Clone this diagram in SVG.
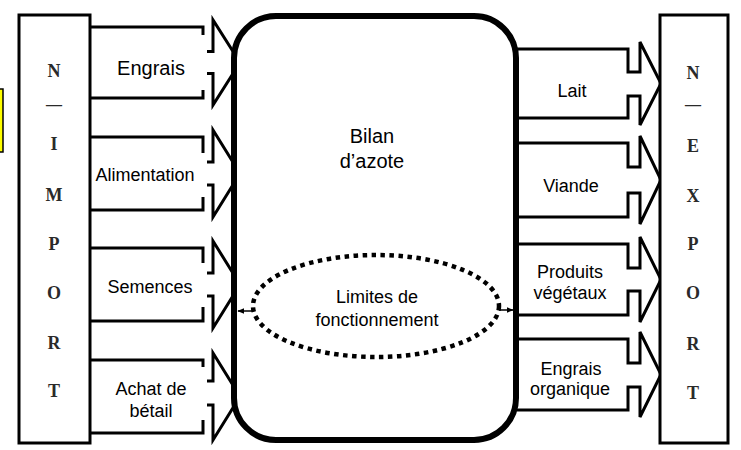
<svg xmlns="http://www.w3.org/2000/svg" width="741" height="450" viewBox="0 0 741 450">
<style>
.arr{fill:none;stroke:#000;stroke-width:3;stroke-linejoin:miter}
.lbl{font-family:"Liberation Sans",Arial,sans-serif;font-size:18px;fill:#000;text-anchor:middle}
.col{font-family:"Liberation Serif","Times New Roman",serif;font-size:18px;font-weight:bold;fill:#2a2a2a;text-anchor:middle}
.side{fill:#fff;stroke:#000;stroke-width:3}
.wbox{fill:#fff;stroke:none}
</style>
<defs>
<marker id="ah" viewBox="0 0 10 10" refX="9" refY="5" markerWidth="7" markerHeight="7" orient="auto-start-reverse" markerUnits="userSpaceOnUse">
<path d="M0,1 L10,5 L0,9 z" fill="#000"/>
</marker>
</defs>
<rect width="741" height="450" fill="#fff"/>

<g id="note">
<rect x="-6" y="89" width="9" height="63" fill="#ffff00" stroke="#000" stroke-width="1.5"/>
</g>

<g id="connectors">
<!-- import arrows -->
<path class="arr" d="M90,27 H203 V51.5 H213 V20 L240,62.5 L213,105 V73.5 H203 V98 H90"/>
<path class="arr" d="M90,137 H203 V162 H213 V130 L240,173.5 L213,217 V185 H203 V210 H90"/>
<path class="arr" d="M90,248 H203 V273 H213 V241 L240,284.5 L213,328 V296 H203 V321 H90"/>
<path class="arr" d="M90,360 H203 V381 H213 V353 L240,396.5 L213,440 V405 H203 V433 H90"/>
<!-- export arrows -->
<path class="arr" d="M517,49 H628 V72 H640 V42 L661,83.5 L640,125 V96 H628 V118 H517"/>
<path class="arr" d="M517,143 H628 V167 H640 V136 L661,180 L640,224 V193 H628 V217 H517"/>
<path class="arr" d="M517,244 H628 V268 H640 V237 L661,279.5 L640,322 V291 H628 V315 H517"/>
<path class="arr" d="M517,339 H628 V363 H640 V332 L661,374.5 L640,417 V387 H628 V410 H517"/>
</g>

<g id="import-labels">
<rect class="wbox" x="92" y="35" width="115" height="55"/>
<text class="lbl" x="151" y="75" style="font-size:20px">Engrais</text>
<rect class="wbox" x="92" y="153" width="115" height="44"/>
<text class="lbl" x="145" y="181">Alimentation</text>
<rect class="wbox" x="92" y="263" width="115" height="44"/>
<text class="lbl" x="150" y="293">Semences</text>
<rect class="wbox" x="92" y="367" width="115" height="53"/>
<text class="lbl" x="151" y="395">Achat de</text>
<text class="lbl" x="151" y="417">bétail</text>
</g>

<g id="import">
<rect class="side" x="19" y="15" width="71" height="428"/>
<text class="col" x="54" y="77">N</text>
<text class="col" x="54" y="110" style="font-size:16px">—</text>
<text class="col" x="54" y="150">I</text>
<text class="col" x="54" y="201">M</text>
<text class="col" x="54" y="250">P</text>
<text class="col" x="54" y="299">O</text>
<text class="col" x="54" y="349">R</text>
<text class="col" x="54" y="397">T</text>
</g>

<g id="bilan">
<rect x="234" y="16" width="282" height="424" rx="42" ry="42" fill="#fff" stroke="#000" stroke-width="6"/>
<text class="lbl" x="372" y="143" style="font-size:20px">Bilan</text>
<text class="lbl" x="372" y="168" style="font-size:20px">d’azote</text>
</g>

<g id="limites">
<ellipse cx="376" cy="306" rx="123" ry="51" fill="none" stroke="#000" stroke-width="4.5" stroke-dasharray="4.5 4.5"/>
<text class="lbl" x="377" y="303">Limites de</text>
<text class="lbl" x="377" y="326">fonctionnement</text>
</g>

<g id="limit-arrows">
<line x1="253" y1="311" x2="238" y2="311" stroke="#000" stroke-width="1.5" marker-end="url(#ah)"/>
<line x1="499" y1="310" x2="513" y2="310" stroke="#000" stroke-width="1.5" marker-end="url(#ah)"/>
</g>

<g id="export-labels">
<text class="lbl" x="572" y="97">Lait</text>
<text class="lbl" x="571" y="192">Viande</text>
<text class="lbl" x="570" y="278">Produits</text>
<text class="lbl" x="570" y="299">végétaux</text>
<text class="lbl" x="571" y="375">Engrais</text>
<text class="lbl" x="570" y="395">organique</text>
</g>

<g id="export">
<rect class="side" x="660" y="15" width="68" height="428"/>
<text class="col" x="693" y="79">N</text>
<text class="col" x="693" y="110" style="font-size:16px">—</text>
<text class="col" x="693" y="152">E</text>
<text class="col" x="693" y="202">X</text>
<text class="col" x="693" y="250">P</text>
<text class="col" x="693" y="299">O</text>
<text class="col" x="693" y="350">R</text>
<text class="col" x="693" y="399">T</text>
</g>
</svg>
